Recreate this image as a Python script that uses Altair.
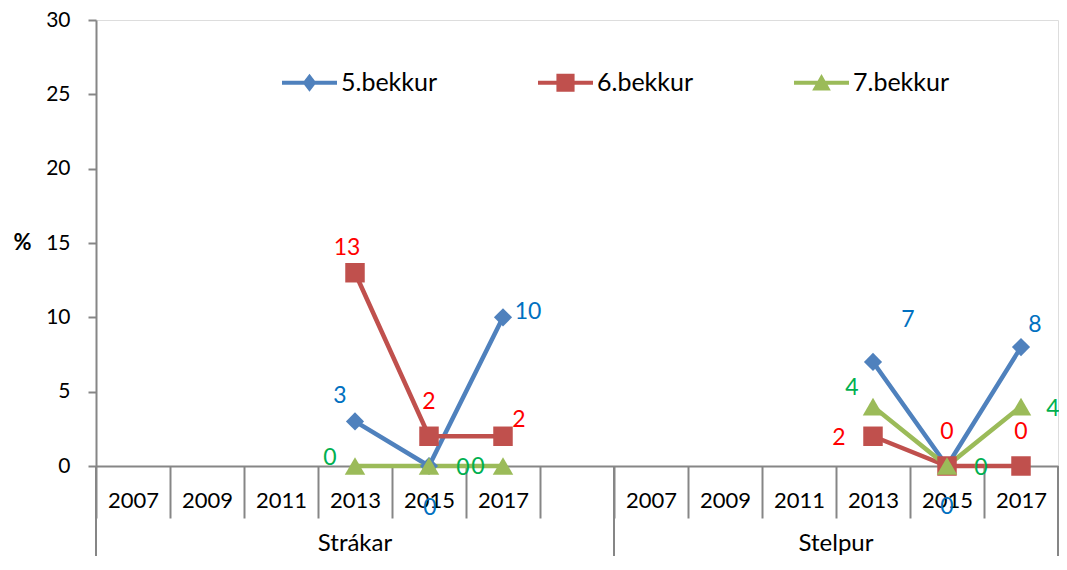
import altair as alt
import pandas as pd

# ---------------- data ----------------
years = ["2007", "2009", "2011", "2013", "2015", "2017"]
groups = ["Strákar", "Stelpur"]
series = ["5.bekkur", "6.bekkur", "7.bekkur"]

strakar_5 = [None, None, None, 3, 0, 10]
strakar_6 = [None, None, None, 13, 2, 2]
strakar_7 = [None, None, None, 0, 0, 0]
stelpur_5 = [None, None, None, 7, 0, 8]
stelpur_6 = [None, None, None, 2, 0, 0]
stelpur_7 = [None, None, None, 4, 0, 4]

values = {
    ("Strákar", "5.bekkur"): strakar_5,
    ("Strákar", "6.bekkur"): strakar_6,
    ("Strákar", "7.bekkur"): strakar_7,
    ("Stelpur", "5.bekkur"): stelpur_5,
    ("Stelpur", "6.bekkur"): stelpur_6,
    ("Stelpur", "7.bekkur"): stelpur_7,
}

# ---------------- styles ----------------
line_colors = ["#4F81BD", "#C0504D", "#9BBB59"]
label_colors = ["#0070C0", "#FF0000", "#00B050"]
marker_shapes = ["diamond", "square", "triangle-up"]
marker_sizes = [330, 380, 420]
AXIS_GRAY = "#868686"
FONT = "Lato"

# data label offsets (dx, dy) for the plotted years 2013, 2015, 2017
label_offsets = {
    ("Strákar", "5.bekkur"): [(-15, -25), (1, 42), (25, -5)],
    ("Strákar", "6.bekkur"): [(-8, -25), (0, -34), (16, -16)],
    ("Strákar", "7.bekkur"): [(-25, -8), (34, 2), (-25, 1)],
    ("Stelpur", "5.bekkur"): [(35, -42), (0, 41), (14, -22)],
    ("Stelpur", "6.bekkur"): [(-34, 2), (0, -34), (0, -34)],
    ("Stelpur", "7.bekkur"): [(-21, -19), (34, 2), (32, 2)],
}

legend_paths = [
    "M-1,-0.075L1,-0.075L1,0.075L-1,0.075Z M0,-0.33L0.25,0L0,0.33L-0.25,0Z",
    "M-1,-0.075L1,-0.075L1,0.075L-1,0.075Z M-0.33,-0.33L0.33,-0.33L0.33,0.33L-0.33,0.33Z",
    "M-1,-0.075L1,-0.075L1,0.075L-1,0.075Z M0,-0.32L0.34,0.28L-0.34,0.28Z",
]

# ---------------- categories ----------------
cats = []
for gi, g in enumerate(groups):
    cats += [f"{g}|{y}" for y in years]
    if gi == 0:
        cats.append(f"{g}|")

rows = []
for (g, s), vals in values.items():
    k = 0
    for y, v in zip(years, vals):
        if v is None:
            continue
        dx, dy = label_offsets[(g, s)][k]
        k += 1
        rows.append(dict(cat=f"{g}|{y}", group=g, series=s, year=y,
                         value=v, label=str(v), dx=dx, dy=dy))
df = pd.DataFrame(rows)

W, H = 962, 446
BOTTOM = 90
xscale = alt.Scale(domain=cats, paddingInner=0, paddingOuter=0)
yscale = alt.Scale(domain=[0, 30], nice=False)

x_enc = alt.X(
    "cat:N", scale=xscale, sort=cats, title=None,
    axis=alt.Axis(
        labelExpr="split(datum.value, '|')[1]",
        labelAngle=0, labelFont=FONT, labelFontSize=22, labelColor="#000000",
        labelBaseline="middle", labelPadding=-18,
        tickBand="extent", tickSize=52, tickColor=AXIS_GRAY, tickWidth=2,
        domainColor=AXIS_GRAY, domainWidth=2, grid=False,
    ),
)
y_enc = alt.Y(
    "value:Q", scale=yscale,
    axis=alt.Axis(
        values=[0, 5, 10, 15, 20, 25, 30], grid=False,
        tickSize=8, tickColor=AXIS_GRAY, tickWidth=2,
        domainColor=AXIS_GRAY, domainWidth=2,
        labelFont=FONT, labelFontSize=21, labelColor="#000000", labelPadding=18,
        title="%", titleAngle=0, titleFont=FONT, titleFontSize=22,
        titleFontWeight="bold", titleColor="#000000",
        titleX=-74, titleY=222, titleAlign="center", titleBaseline="middle",
    ),
)

layers = []
# lines
for s, c in zip(series, line_colors):
    layers.append(
        alt.Chart(df[df.series == s]).mark_line(color=c, strokeWidth=4.5)
        .encode(x=x_enc, y=y_enc, detail="group:N", order="year:O")
    )
# markers
for s, c, sh, sz in zip(series, line_colors, marker_shapes, marker_sizes):
    layers.append(
        alt.Chart(df[df.series == s]).mark_point(shape=sh, size=sz, filled=True,
                                                 color=c, opacity=1)
        .encode(x=x_enc, y=y_enc)
    )
# data labels
for s, lc in zip(series, label_colors):
    sub = df[df.series == s]
    for _, r in sub.iterrows():
        layers.append(
            alt.Chart(pd.DataFrame([r.to_dict()]))
            .mark_text(color=lc, font=FONT, fontSize=23, dx=int(r.dx), dy=int(r.dy),
                       align="center", baseline="middle")
            .encode(x=x_enc, y=y_enc, text="label:N")
        )

# group separator lines of the category axis
sep_start = pd.DataFrame({"cat": [f"{groups[0]}|{years[0]}", f"{groups[1]}|{years[0]}"]})
sep_end = pd.DataFrame({"cat": [f"{groups[1]}|{years[-1]}"]})
for d, bp in [(sep_start, 0), (sep_end, 1)]:
    layers.append(
        alt.Chart(d).mark_rule(color=AXIS_GRAY, strokeWidth=2)
        .encode(x=alt.X("cat:N", scale=xscale, bandPosition=bp),
                y=alt.YDatum(0),
                y2=alt.value(H + BOTTOM + 2))
    )

# group labels
grp_a = pd.DataFrame({"cat": [f"{groups[0]}|2013"], "name": [groups[0]]})
grp_b = pd.DataFrame({"cat": [f"{groups[1]}|2013"], "name": [groups[1]]})
for d, bp in [(grp_a, 0.5), (grp_b, 0)]:
    layers.append(
        alt.Chart(d).mark_text(font=FONT, fontSize=24, color="#000000",
                               baseline="middle", align="center")
        .encode(x=alt.X("cat:N", scale=xscale, bandPosition=bp),
                y=alt.value(H + 78), text="name:N")
    )

# legend (built from an empty layer with explicit scale domains)
leg = dict(orient="none", legendX=186, legendY=35, direction="horizontal",
           columns=3, title=None, symbolSize=55 * 55, symbolStrokeWidth=0,
           labelFont=FONT, labelFontSize=25, labelColor="#000000",
           labelOffset=4, columnPadding=100, padding=0, symbolOpacity=1)
layers.append(
    alt.Chart(df).transform_filter("false").mark_point(filled=True, opacity=1)
    .encode(
        color=alt.Color("series:N", scale=alt.Scale(domain=series, range=line_colors),
                        legend=alt.Legend(**leg)),
        shape=alt.Shape("series:N", scale=alt.Scale(domain=series, range=legend_paths),
                        legend=alt.Legend(**leg)),
    )
)

chart = (
    alt.layer(*layers)
    .properties(width=W, height=H,
                autosize=alt.AutoSizeParams(type="none"),
                padding={"left": 88, "top": 12, "right": 1, "bottom": BOTTOM})
    .configure_view(strokeWidth=0)
    .configure(background="white")
)

chart.save("out.html", embed_options={"renderer": "svg", "actions": False})
